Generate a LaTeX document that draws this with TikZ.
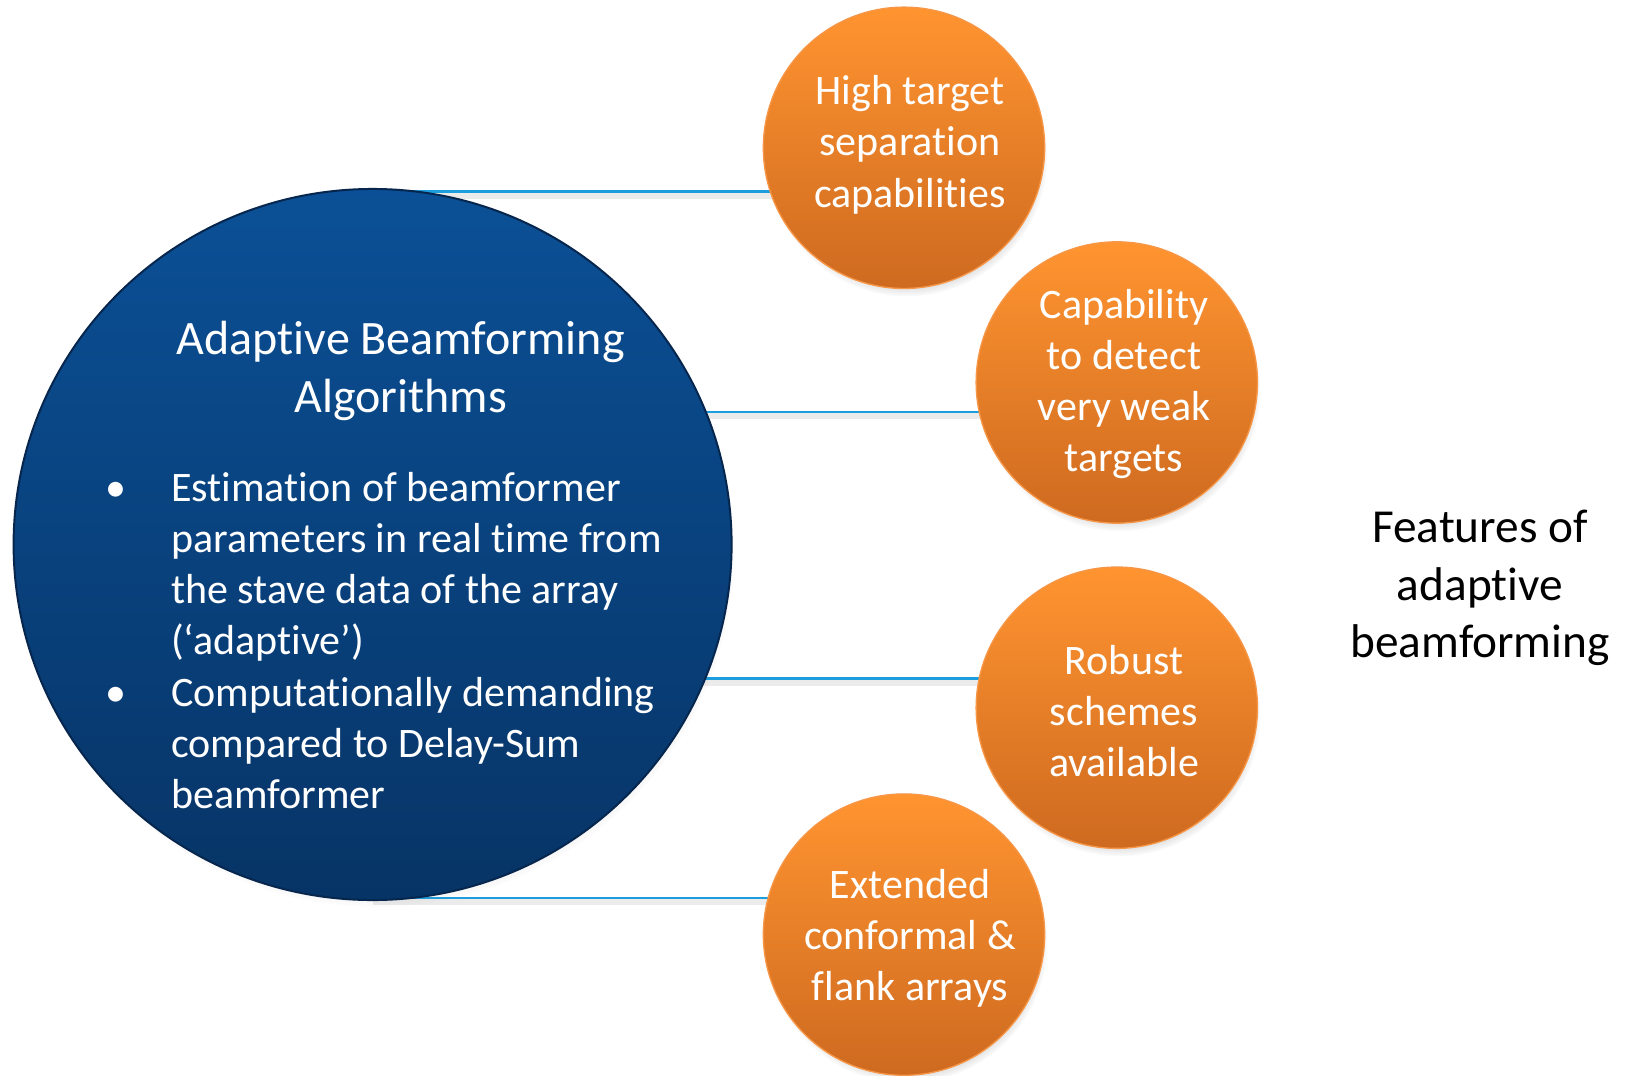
\documentclass[tikz,border=0pt]{standalone}
\usepackage{fontspec}
\setmainfont{Carlito}[RawFeature={-liga}]
\usetikzlibrary{shadows,backgrounds,shapes.geometric}

\definecolor{navytop}{RGB}{11,80,150}
\definecolor{navybot}{RGB}{7,52,102}
\definecolor{navyrim}{RGB}{6,38,78}
\definecolor{orangetop}{RGB}{255,148,48}
\definecolor{orangebot}{RGB}{206,106,32}
\definecolor{orangerim}{RGB}{246,150,70}
\definecolor{linkblue}{RGB}{28,158,222}

\pgfdeclarelayer{paper}
\pgfsetlayers{paper,background,main}

\tikzset{
  hub/.style={ellipse, minimum width=538.5pt, minimum height=533.3pt, inner sep=0pt,
    top color=navytop, bottom color=navybot, draw=navyrim, line width=1.5pt,
    circular drop shadow={shadow xshift=2pt, shadow yshift=-5pt, shadow scale=1.0, opacity=.45}},
  feature/.style={circle, minimum size=211pt, inner sep=0pt,
    top color=orangetop, bottom color=orangebot, draw=orangerim, line width=1pt,
    circular drop shadow={shadow xshift=2pt, shadow yshift=-6pt, shadow scale=1.0, opacity=.5}},
  ftext/.style={text=white, align=center, inner sep=0pt, font=\fontsize{31.5}{38.4}\selectfont},
  htitle/.style={text=white, align=center, inner sep=0pt, font=\fontsize{36}{43.5}\selectfont},
  hbody/.style={text=white, align=left, anchor=west, inner sep=0pt, font=\fontsize{31.5}{38.4}\selectfont},
  caption/.style={text=black, align=center, inner sep=0pt, font=\fontsize{35.5}{43}\selectfont},
  linkshade/.style={draw=black, opacity=.08, line width=4.5pt},
  link/.style={draw=linkblue, line width=1.8pt},
}

\newcommand{\bul}{\llap{\textbullet\hspace{34pt}}}

\begin{document}
\begin{tikzpicture}[x=0.75pt, y=-0.75pt]
  \begin{pgfonlayer}{paper}
    \fill[white] (0,0) rectangle (1632,1075);
  \end{pgfonlayer}
  \useasboundingbox (0,0) rectangle (1632,1075);

  % central circle
  \node[hub] (big) at (372.6,544.5) {};
  \node[htitle] (title) at (400.7,370.5) {Adaptive Beamforming\\Algorithms};
  \node[hbody] (body) at (171,640.5) {%
    \bul Estimation of beamformer\\
    parameters in real time from\\
    the stave data of the array\\
    (‘adaptive’)\\
    \bul Computationally demanding\\
    compared to Delay-Sum\\
    beamformer};

  % feature circles
  \node[feature] (o1) at (904,147.8) {};
  \node[feature] (o2) at (1116.8,382.5) {};
  \node[feature] (o3) at (1116.8,707.7) {};
  \node[feature] (o4) at (904,934.6) {};

  \node[ftext] (t1) at (910,144.6) {High target\\separation\\capabilities};
  \node[ftext] (t2) at (1124,384) {Capability\\to detect\\very weak\\targets};
  \node[ftext] (t3) at (1124,711) {Robust\\schemes\\available};
  \node[ftext] (t4) at (910,938) {Extended\\conformal \&\\flank arrays};

  \node[caption] (cap) at (1480,588) {Features of\\adaptive\\beamforming};

  % connector heights
  \coordinate (h1) at (0,191.5);
  \coordinate (h2) at (0,412);
  \coordinate (h3) at (0,678.6);
  \coordinate (h4) at (0,898.2);

  \begin{scope}[on background layer]
    \foreach \o/\h in {o1/h1, o2/h2, o3/h3, o4/h4} {
      \draw[linkshade] ([yshift=-3pt]big.center |- \h) -- ([yshift=-3pt]\o.center |- \h);
      \draw[link] (big.center |- \h) -- (\o.center |- \h);
    }
  \end{scope}
\end{tikzpicture}
\end{document}
